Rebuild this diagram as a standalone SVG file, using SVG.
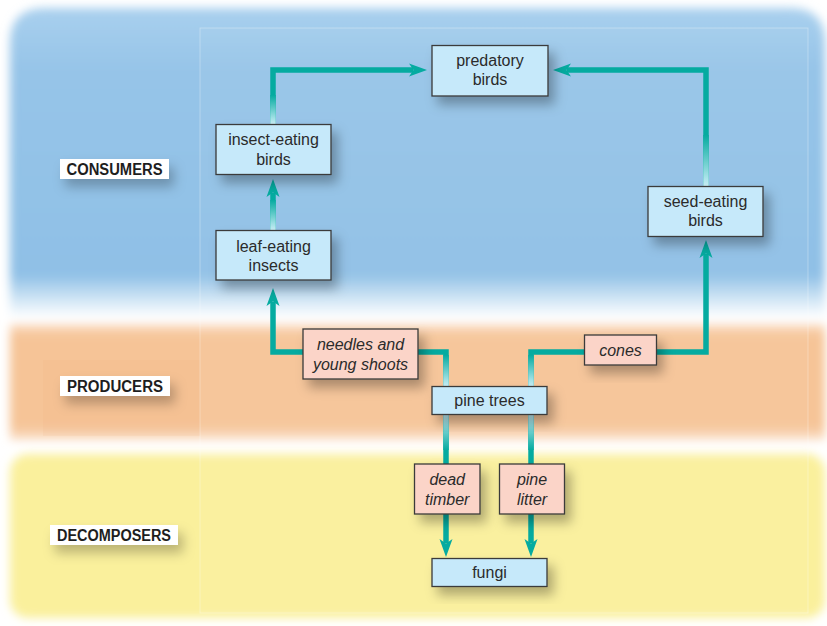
<svg xmlns="http://www.w3.org/2000/svg" width="827" height="626" viewBox="0 0 827 626">
<defs>
<style>
.node rect.b{fill:#c6e9fa;stroke:#3a3a3a;stroke-width:1.3;filter:url(#sh)}
.node rect.p{fill:#fbd4c8;stroke:#3a3a3a;stroke-width:1.3;filter:url(#sh)}
.node text{font-family:"Liberation Sans",Arial,sans-serif;font-size:16px;fill:#2b2b2b;text-anchor:middle}
.node text.i{font-style:italic}
.cat rect{fill:#ffffff;filter:url(#sh2)}
.cat text{font-family:"Liberation Sans",Arial,sans-serif;font-weight:bold;font-size:16px;fill:#1e1e1e;text-anchor:middle}
.con path{fill:none;stroke:#05aba0;stroke-width:5.5;stroke-linejoin:miter}
.con path.a{marker-end:url(#ah)}
</style>
<filter id="bl" x="-5%" y="-5%" width="110%" height="110%"><feGaussianBlur stdDeviation="5"/></filter>
<filter id="sh" x="-20%" y="-30%" width="160%" height="190%"><feDropShadow dx="6" dy="8" stdDeviation="6" flood-color="#000" flood-opacity="0.3"/></filter>
<filter id="sh2" x="-20%" y="-50%" width="160%" height="250%"><feDropShadow dx="5" dy="8" stdDeviation="6" flood-color="#000" flood-opacity="0.25"/></filter>
<marker id="ah" markerUnits="userSpaceOnUse" markerWidth="20" markerHeight="14" refX="4" refY="7" orient="auto" viewBox="0 0 20 14">
<path d="M0,0.5 L18,7 L0,13.5 L4.5,7 z" fill="#05aba0"/>
</marker>
<linearGradient id="gv" x1="0" y1="0" x2="0" y2="1">
<stop offset="0" stop-color="#05aba0"/>
<stop offset="1" stop-color="#c8eef6"/>
</linearGradient>
<linearGradient id="gvd" x1="0" y1="0" x2="0" y2="1">
<stop offset="0" stop-color="#c8eef6"/>
<stop offset="1" stop-color="#05aba0"/>
</linearGradient>
<linearGradient id="blueg" x1="0" y1="0" x2="0" y2="1">
<stop offset="0" stop-color="#a9d0ee"/>
<stop offset="0.2" stop-color="#96c4e8"/>
<stop offset="0.86" stop-color="#8fc0e6"/>
<stop offset="0.95" stop-color="#d8eaf7"/>
<stop offset="1" stop-color="#ffffff"/>
</linearGradient>
<linearGradient id="orangeg" x1="0" y1="0" x2="0" y2="1">
<stop offset="0" stop-color="#fbe0c8"/>
<stop offset="0.1" stop-color="#f6c497"/>
<stop offset="0.88" stop-color="#f6c497"/>
<stop offset="1" stop-color="#fae2cc"/>
</linearGradient>
</defs>

<g id="background">
<rect width="827" height="626" fill="#ffffff"/>
<g filter="url(#bl)">
<path d="M10,318 V43 Q10,8 45,8 H790 Q825,8 825,43 V318 Z" fill="url(#blueg)"/>
<rect x="10" y="324" width="815" height="116" fill="url(#orangeg)"/>
<rect x="10" y="454" width="815" height="164" rx="18" fill="#faf09c"/>
</g>
<rect x="43" y="360" width="157" height="76" fill="#e8a878" opacity="0.1"/>
<rect x="200" y="28" width="608" height="585" fill="#ffffff" fill-opacity="0.04" stroke="#ffffff" stroke-opacity="0.3" stroke-width="1"/>
</g>

<g id="categories">
<g class="cat" id="cat-consumers"><rect x="60" y="159" width="109" height="20"/><text x="114.5" y="175" textLength="96" lengthAdjust="spacingAndGlyphs">CONSUMERS</text></g>
<g class="cat" id="cat-producers"><rect x="60" y="376" width="110" height="20"/><text x="115" y="392" textLength="96" lengthAdjust="spacingAndGlyphs">PRODUCERS</text></g>
<g class="cat" id="cat-decomposers"><rect x="50" y="525" width="128" height="20"/><text x="114" y="541" textLength="114" lengthAdjust="spacingAndGlyphs">DECOMPOSERS</text></g>
</g>

<g id="connectors" class="con">
<path class="a" d="M273,124 V70 H413"/>
<path class="a" d="M706,186 V70 H567"/>
<path class="a" d="M273,230 V193"/>
<path class="a" d="M446,386 V352 H273 V302"/>
<path class="a" d="M531,386 V352 H706 V254"/>
<path class="a" d="M446,414 V543"/>
<path class="a" d="M531,414 V543"/>
<rect x="270.25" y="95" width="5.5" height="29" fill="url(#gv)"/>
<rect x="703.25" y="135" width="5.5" height="51" fill="url(#gv)"/>
<rect x="270.25" y="200" width="5.5" height="30" fill="url(#gv)"/>
<rect x="443.25" y="355" width="5.5" height="31" fill="url(#gv)"/>
<rect x="528.25" y="355" width="5.5" height="31" fill="url(#gv)"/>
<rect x="443.25" y="414" width="5.5" height="36" fill="url(#gvd)"/>
<rect x="528.25" y="414" width="5.5" height="36" fill="url(#gvd)"/>
</g>

<g id="predatory-birds" class="node"><rect class="b" x="432" y="45.5" width="116" height="50.5"/><text x="490" y="65.5">predatory</text><text x="490" y="85">birds</text></g>
<g id="insect-eating-birds" class="node"><rect class="b" x="216" y="124.5" width="115" height="50"/><text x="273.5" y="145">insect-eating</text><text x="273.5" y="164.5">birds</text></g>
<g id="leaf-eating-insects" class="node"><rect class="b" x="216" y="230.5" width="115" height="49.5"/><text x="273.5" y="251.5">leaf-eating</text><text x="273.5" y="270.5">insects</text></g>
<g id="seed-eating-birds" class="node"><rect class="b" x="648" y="186.5" width="115" height="50"/><text x="705.5" y="207">seed-eating</text><text x="705.5" y="226">birds</text></g>
<g id="needles" class="node"><rect class="p" x="303" y="329" width="115" height="50"/><text class="i" x="360.5" y="350">needles and</text><text class="i" x="360.5" y="369.5">young shoots</text></g>
<g id="cones" class="node"><rect class="p" x="584.5" y="335" width="72" height="30"/><text class="i" x="620.5" y="355.5">cones</text></g>
<g id="pine-trees" class="node"><rect class="b" x="432" y="386.5" width="115" height="28"/><text x="489.5" y="406">pine trees</text></g>
<g id="dead-timber" class="node"><rect class="p" x="414.5" y="464" width="65.5" height="50"/><text class="i" x="447.2" y="485">dead</text><text class="i" x="447.2" y="504.5">timber</text></g>
<g id="pine-litter" class="node"><rect class="p" x="499.5" y="464" width="65" height="50"/><text class="i" x="532" y="485">pine</text><text class="i" x="532" y="504.5">litter</text></g>
<g id="fungi" class="node"><rect class="b" x="432" y="558.5" width="115" height="28"/><text x="489.5" y="578">fungi</text></g>
</svg>
